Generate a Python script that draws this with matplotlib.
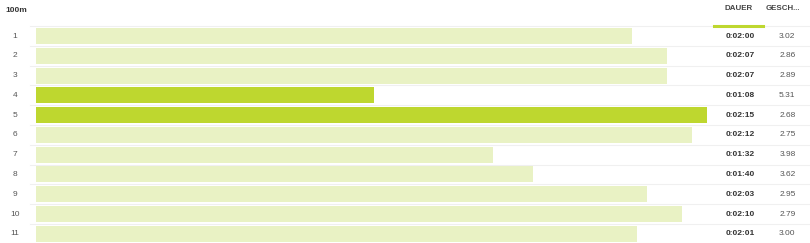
import matplotlib

matplotlib.use("Agg")

import matplotlib.pyplot as plt
import matplotlib.transforms as mtransforms

plt.rcParams["font.family"] = ["Liberation Sans", "DejaVu Sans"]

laps = ["1", "2", "3", "4", "5", "6", "7", "8", "9", "10", "11"]
durations = ["0:02:00", "0:02:07", "0:02:07", "0:01:08", "0:02:15", "0:02:12",
             "0:01:32", "0:01:40", "0:02:03", "0:02:10", "0:02:01"]
seconds = [120, 127, 127, 68, 135, 132, 92, 100, 123, 130, 121]
speeds = ["3.02", "2.86", "2.89", "5.31", "2.68", "2.75", "3.98", "3.62", "2.95", "2.79", "3.00"]
highlight = [False, False, False, True, True, False, False, False, False, False, False]

LIGHT = "#e9f2c4"
DARK = "#bed72f"
W, H = 810, 243

fig = plt.figure(figsize=(W / 100, H / 100), dpi=100)
ax = fig.add_axes([36 / W, 0, 671 / W, 1])
ax.set_xlim(0, 135)
pitch = 19.78
ax.set_ylim(1 + (H - 36) / pitch, 1 - 36 / pitch)
ax.axis("off")

rows = list(range(1, len(laps) + 1))
colors = [DARK if h else LIGHT for h in highlight]
ax.barh(rows, seconds, height=0.81, color=colors, edgecolor="none", zorder=2)

tr = mtransforms.blended_transform_factory(fig.transFigure, ax.transData)
for r in rows:
    fig.add_artist(plt.Line2D([30 / W, 1], [r + 0.5, r + 0.5], transform=tr,
                              color="#f0f0f0", lw=0.8, zorder=1))
fig.add_artist(plt.Line2D([30 / W, 1], [0.5, 0.5], transform=tr,
                          color="#f0f0f0", lw=0.8, zorder=1))

fs = 6.0
for r, lap, dur, spd in zip(rows, laps, durations, speeds):
    fig.text(15 / W, r, lap, transform=tr, ha="center", va="center",
             fontsize=fs, color="#555555")
    fig.text(740.5 / W, r, dur, transform=tr, ha="center", va="center",
             fontsize=fs, color="#333333", fontweight="bold")
    fig.text(795.5 / W, r, spd, transform=tr, ha="right", va="center",
             fontsize=fs, color="#555555")

# header
fig.text(5 / W, 1 - 10 / H, "100m", ha="left", va="center", fontsize=fs,
         color="#333333", fontweight="bold")
fig.text(739 / W, 1 - 8 / H, "DAUER", ha="center", va="center", fontsize=fs - 0.3,
         color="#444444", fontweight="bold")
fig.text(782.5 / W, 1 - 8 / H, "GESCH...", ha="center", va="center", fontsize=fs - 0.3,
         color="#444444", fontweight="bold")
fig.add_artist(plt.Line2D([714 / W, 763 / W], [1 - 26 / H, 1 - 26 / H],
                          transform=fig.transFigure, color=DARK, lw=2.2))

fig.savefig("out.png", dpi=100)
